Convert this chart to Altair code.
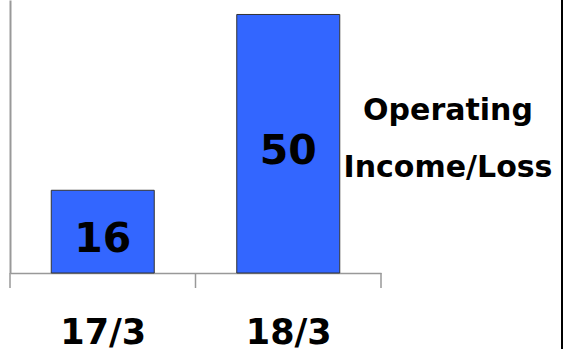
import altair as alt
import pandas as pd

categories = ["17/3", "18/3"]
values = [16, 50]
positions = [0.5, 1.5]
boundaries = [0, 1, 2]
side_label = ["Operating", "Income/Loss"]

FONT = "DejaVu Sans"

df = pd.DataFrame({"cat": categories, "value": values, "pos": positions})
ticks_df = pd.DataFrame({"b": boundaries})

label_expr = "".join(
    f"datum.value === {p} ? '{c}' : " for p, c in zip(positions, categories)
) + "''"

x_scale = alt.Scale(domain=[0, 2], nice=False, zero=False, padding=0)

x_enc = alt.X(
    "pos:Q",
    scale=x_scale,
    axis=alt.Axis(
        title=None,
        values=positions,
        labelExpr=label_expr,
        ticks=False,
        domainColor="#999",
        domainWidth=1.5,
        grid=False,
        labelFont=FONT,
        labelFontWeight="bold",
        labelFontSize=35,
        labelColor="black",
        labelBaseline="alphabetic",
        labelPadding=70,
        labelFlush=False,
        labelOverlap=False,
    ),
)
y_enc = alt.Y(
    "value:Q",
    scale=alt.Scale(domain=[0, 52.8], nice=False, padding=0),
    axis=alt.Axis(title=None, labels=False, ticks=False, grid=False,
                  domainColor="#999", domainWidth=2),
)

base = alt.Chart(df)

bars = base.mark_bar(size=103, color="#3366FF", stroke="#333333", strokeWidth=1).encode(
    x=x_enc, y=y_enc
)

vals = base.transform_calculate(mid="datum.value / 2").mark_text(
    font=FONT, fontWeight="bold", fontSize=41, color="black", baseline="middle", dy=8
).encode(x="pos:Q", y="mid:Q", text="value:Q")

ticks = alt.Chart(ticks_df).mark_rule(color="#999", strokeWidth=1.5).encode(
    x=alt.X("b:Q", scale=x_scale), y=alt.value(273), y2=alt.value(288)
)

side = alt.Chart(alt.Data(values=[{"t": side_label}])).mark_text(
    font=FONT, fontWeight="bold", fontSize=30, color="black",
    baseline="alphabetic", align="center", lineHeight=57
).encode(x=alt.value(438), y=alt.value(120), text="t:N")

border = alt.Chart(alt.Data(values=[{}])).mark_rule(color="black", strokeWidth=2).encode(
    x=alt.value(552), y=alt.value(0), y2=alt.value(349)
)

chart = alt.layer(bars, vals, ticks, side, border).properties(
    width=371, height=273,
    padding={"left": 10, "top": 0, "right": 183, "bottom": 76},
    autosize=alt.AutoSizeParams(type="none"),
).configure_view(stroke=None)

chart.save("out.html", embed_options={"renderer": "svg", "actions": False})
